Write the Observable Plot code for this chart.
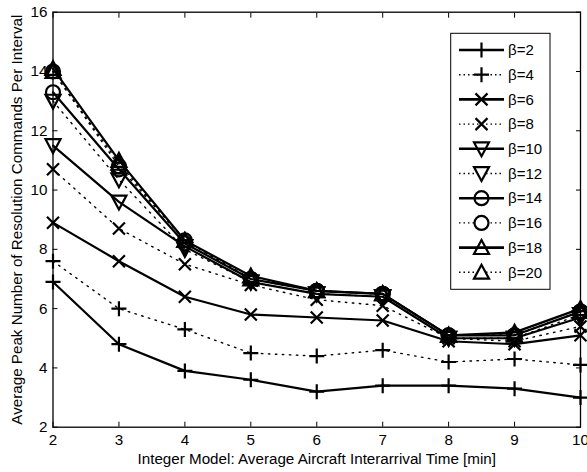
<!DOCTYPE html>
<html><head><meta charset="utf-8">
<script src="https://cdn.jsdelivr.net/npm/d3@7"></script>
<script src="https://cdn.jsdelivr.net/npm/@observablehq/plot@0.6"></script>
<style>html,body{margin:0;padding:0;background:#fff;}</style>
</head><body><div id="chart"></div>
<script>
// ---- data ----
const xValues = [2, 3, 4, 5, 6, 7, 8, 9, 10];
const beta2  = [6.9, 4.8, 3.9, 3.6, 3.2, 3.4, 3.4, 3.3, 3.0];
const beta4  = [7.6, 6.0, 5.3, 4.5, 4.4, 4.6, 4.2, 4.3, 4.1];
const beta6  = [8.9, 7.6, 6.4, 5.8, 5.7, 5.6, 4.9, 4.8, 5.1];
const beta8  = [10.7, 8.7, 7.5, 6.8, 6.3, 6.1, 5.0, 4.9, 5.4];
const beta10 = [11.5, 9.6, 8.1, 6.9, 6.5, 6.4, 5.0, 5.0, 5.7];
const beta12 = [13.0, 10.35, 8.0, 6.9, 6.5, 6.4, 5.0, 5.0, 5.8];
const beta14 = [13.3, 10.7, 8.2, 7.0, 6.6, 6.5, 5.1, 5.1, 5.9];
const beta16 = [14.0, 10.8, 8.3, 7.0, 6.6, 6.5, 5.1, 5.1, 5.9];
const beta18 = [14.1, 11.0, 8.3, 7.1, 6.6, 6.5, 5.1, 5.2, 6.0];
const beta20 = [14.0, 10.9, 8.3, 7.0, 6.6, 6.5, 5.1, 5.1, 5.9];
const seriesNames = ["β=2","β=4","β=6","β=8","β=10","β=12","β=14","β=16","β=18","β=20"];
const seriesValues = [beta2, beta4, beta6, beta8, beta10, beta12, beta14, beta16, beta18, beta20];
const xTicks = [2, 3, 4, 5, 6, 7, 8, 9, 10];
const yTicks = [2, 4, 6, 8, 10, 12, 14, 16];
const xLabel = "Integer Model: Average Aircraft Interarrival Time [min]";
const yLabel = "Average Peak Number of Resolution Commands Per Interval";

// ---- marker symbols (r = half-size in px) ----
const rad = size => Math.sqrt(size / Math.PI);
const symPlus = {draw(c, s){const r = rad(s); c.moveTo(-r,0); c.lineTo(r,0); c.moveTo(0,-r); c.lineTo(0,r);}};
const symTimes = {draw(c, s){const r = rad(s); c.moveTo(-r,-r); c.lineTo(r,r); c.moveTo(-r,r); c.lineTo(r,-r);}};
const symTriDown = {draw(c, s){const r = rad(s); c.moveTo(-r,-0.85*r); c.lineTo(r,-0.85*r); c.lineTo(0,r); c.closePath();}};
const symTriUp = {draw(c, s){const r = rad(s); c.moveTo(-r,0.85*r); c.lineTo(r,0.85*r); c.lineTo(0,-r); c.closePath();}};
const symCircle = {draw(c, s){const r = rad(s); c.moveTo(r,0); c.arc(0,0,r,0,2*Math.PI);}};
const markerSymbols = [symPlus, symPlus, symTimes, symTimes, symTriDown, symTriDown, symCircle, symCircle, symTriUp, symTriUp];
const markerR = [7.5, 7.5, 6, 6, 7.5, 7.5, 7, 7, 7.5, 7.5];
const dotted = [false, true, false, true, false, true, false, true, false, true];

const series = seriesNames.map((name, i) => ({
  name, symbol: markerSymbols[i], r: markerR[i], dotted: dotted[i],
  data: xValues.map((x, j) => ({x, y: seriesValues[i][j]}))
}));

const marks = [];
series.forEach(s => {
  marks.push(Plot.line(s.data, {x: "x", y: "y", stroke: "black",
    strokeWidth: s.dotted ? 1.4 : 2.2, strokeDasharray: s.dotted ? "1.5,5.5" : null}));
  marks.push(Plot.dot(s.data, {x: "x", y: "y", symbol: s.symbol, r: s.r,
    stroke: "black", strokeWidth: 2.2, fill: "none"}));
});

const chart = Plot.plot({
  width: 587, height: 472,
  marginLeft: 52.5, marginRight: 7, marginTop: 11.7, marginBottom: 45.3,
  style: {fontFamily: "'Liberation Sans', Arial, sans-serif", fontSize: "15px", background: "white", color: "black", overflow: "visible"},
  x: {domain: [2, 10]},
  y: {domain: [2, 16]},
  marks: [
    Plot.axisX({anchor: "bottom", ticks: xTicks, tickSize: -5, tickPadding: 12, tickFormat: d => String(d),
      label: xLabel, labelAnchor: "center", labelOffset: 37, labelArrow: "none", fontSize: 15.2}),
    Plot.axisX({anchor: "top", ticks: xTicks, tickSize: -5, tickFormat: () => "", label: null}),
    Plot.axisY({anchor: "left", ticks: yTicks, tickSize: -5, tickPadding: 10.5, tickFormat: d => String(d),
      label: yLabel, labelAnchor: "center", labelOffset: 42, labelArrow: "none", fontSize: 15.2}),
    Plot.axisY({anchor: "right", ticks: yTicks, tickSize: -5, tickFormat: () => "", label: null}),
    ...marks,
    Plot.frame({stroke: "black", strokeWidth: 1.3})
  ]
});
document.getElementById("chart").appendChild(chart);

// ---- legend ----
const svg = d3.select(chart);
const lg = svg.append("g").attr("class", "legend").attr("text-anchor", "start");
const box = {x: 450.7, y: 33.3, w: 99.3, h: 256};
lg.append("rect").attr("x", box.x).attr("y", box.y).attr("width", box.w).attr("height", box.h)
  .attr("fill", "white").attr("stroke", "black").attr("stroke-width", 1);
series.forEach((s, i) => {
  const cy = 50 + i * 24.7;
  const g = lg.append("g");
  g.append("line").attr("x1", 459).attr("x2", 504).attr("y1", cy).attr("y2", cy)
    .attr("stroke", "black").attr("stroke-width", s.dotted ? 1.4 : 2.6)
    .attr("stroke-dasharray", s.dotted ? "1.5,3" : null);
  const p = d3.path();
  s.symbol.draw(p, Math.PI * s.r * s.r);
  g.append("path").attr("d", p.toString()).attr("transform", `translate(481.5,${cy})`)
    .attr("fill", s.dotted ? "white" : "none").attr("stroke", "black").attr("stroke-width", 2.2);
  g.append("text").attr("x", 508).attr("y", cy).attr("dy", "0.35em").attr("text-anchor", "start")
    .attr("font-size", 15).attr("fill", "black").text(s.name);
});
</script>
</body></html>
